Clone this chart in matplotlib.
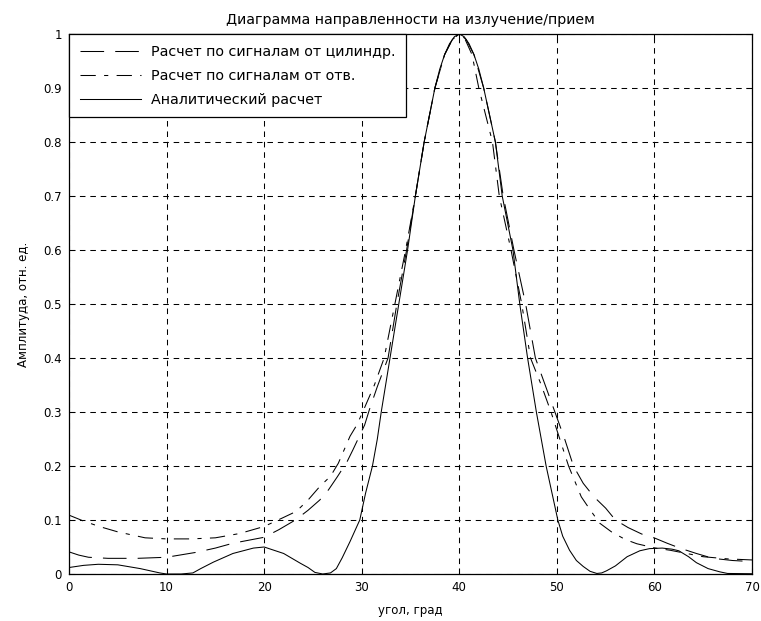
import numpy as np
import matplotlib
matplotlib.use("Agg")
import matplotlib.pyplot as plt

plt.rcParams['font.family'] = ['DejaVu Sans']
plt.rcParams['font.size'] = 8.5
plt.rcParams['lines.scale_dashes'] = False

# расчет по сигналам от цилиндра (пунктир)
cyl_x = [0, 1, 2, 4, 7, 10, 13, 15, 16.8, 20, 21.5, 23.2, 24.5, 25.7, 26.6, 27.5,
         28.5, 29.1, 29.7, 30.3, 30.8, 31.6, 32.7, 33.6, 34.6, 35.5, 36.4, 37.5,
         38.5, 39.3, 40, 40.7, 41.5, 42.5, 43.7, 44.5, 45.6, 46.8, 47.8, 48.8,
         49.8, 50.8, 51.7, 52.7, 53.8, 55.0, 56.0, 57.3, 58.7, 60.1, 61.3, 62.6,
         64.3, 66, 68, 70]
cyl_y = [0.041, 0.035, 0.031, 0.029, 0.029, 0.031, 0.040, 0.048, 0.057, 0.068,
         0.082, 0.100, 0.118, 0.137, 0.156, 0.180, 0.208, 0.230, 0.253, 0.276,
         0.305, 0.347, 0.400, 0.500, 0.600, 0.700, 0.800, 0.900, 0.962, 0.990,
         1.000, 0.990, 0.962, 0.900, 0.800, 0.700, 0.600, 0.500, 0.400, 0.350,
         0.300, 0.250, 0.200, 0.168, 0.143, 0.122, 0.100, 0.086, 0.074, 0.066,
         0.057, 0.048, 0.038, 0.029, 0.025, 0.023]

# расчет по сигналам от отверстий (штрих-пунктир)
hole_x = [0, 1.5, 3.1, 5, 7.8, 10, 12.5, 15, 17.5, 20, 21.9, 23.3, 24.5, 25.7,
          26.8, 27.6, 28.8, 29.5, 30.1, 31.3, 32.3, 33.4, 34.5, 35.5, 36.4, 37.5,
          38.5, 39.3, 40, 40.6, 41.3, 42.0, 43.4, 44.1, 45.3, 46.4, 47.3, 48.4,
          49.4, 50.3, 51.2, 52.5, 53.4, 54.4, 55.6, 57.0, 58.2, 60.1, 61.6, 63.3,
          65, 67.5, 70]
hole_y = [0.109, 0.098, 0.088, 0.078, 0.067, 0.065, 0.065, 0.067, 0.075, 0.088,
          0.104, 0.116, 0.137, 0.162, 0.181, 0.205, 0.255, 0.276, 0.300, 0.350,
          0.400, 0.500, 0.600, 0.700, 0.800, 0.900, 0.962, 0.990, 1.000, 0.990,
          0.962, 0.900, 0.800, 0.700, 0.600, 0.500, 0.400, 0.350, 0.300, 0.250,
          0.200, 0.143, 0.119, 0.094, 0.078, 0.064, 0.056, 0.048, 0.044, 0.038,
          0.032, 0.028, 0.026]

# аналитический расчет (сплошная)
an_x = [0, 1.5, 3, 5, 7.3, 8.3, 9.3, 10, 11.5, 12.7, 13.5, 14.8, 16.8, 18.9, 20,
        22, 23.7, 24.5, 25.2, 26.0, 26.8, 27.4, 28.0, 28.8, 29.8, 30.4, 31.1,
        31.6, 32.0, 32.9, 33.8, 34.7, 35.5, 36.4, 37.5, 38.0, 38.5, 39.0, 39.5,
        40, 40.5, 41.0, 41.5, 42.0, 42.5, 43.7, 44.4, 45.5, 46.2, 47.0, 47.9,
        48.9, 50.1, 50.6, 51.3, 52.0, 52.7, 53.4, 54.1, 54.6, 55.1, 56.0, 57.2,
        58.5, 59.5, 60.8, 61.8, 62.5, 63.5, 64.3, 65.5, 66.7, 67.5, 70]
an_y = [0.012, 0.016, 0.018, 0.017, 0.010, 0.006, 0.002, 0.0, 0.0, 0.002, 0.010,
        0.022, 0.038, 0.048, 0.050, 0.038, 0.020, 0.012, 0.003, 0.0, 0.002, 0.010,
        0.030, 0.060, 0.100, 0.150, 0.200, 0.250, 0.300, 0.400, 0.500, 0.600,
        0.700, 0.800, 0.900, 0.935, 0.962, 0.982, 0.995, 1.000, 0.995, 0.982,
        0.962, 0.935, 0.900, 0.800, 0.700, 0.600, 0.500, 0.400, 0.300, 0.200,
        0.100, 0.070, 0.044, 0.025, 0.014, 0.005, 0.001, 0.002, 0.006, 0.015,
        0.032, 0.043, 0.047, 0.048, 0.046, 0.043, 0.032, 0.021, 0.010, 0.004,
        0.001, 0.0005]

labels = ['Расчет по сигналам от цилиндр.',
          'Расчет по сигналам от отв.',
          'Аналитический расчет']

xticks = [0, 10, 20, 30, 40, 50, 60, 70]
yticks = [0, 0.1, 0.2, 0.3, 0.4, 0.5, 0.6, 0.7, 0.8, 0.9, 1]
ytick_labels = ['0', '0.1', '0.2', '0.3', '0.4', '0.5', '0.6', '0.7', '0.8', '0.9', '1']

fig = plt.figure(figsize=(7.61, 6.21), dpi=100)
ax = fig.add_axes([69 / 761, 47 / 621, 683 / 761, 540 / 621])

lw = 0.75
ax.plot(cyl_x, cyl_y, color='black', lw=lw, linestyle=(0, (17, 8)), label=labels[0])
ax.plot(hole_x, hole_y, color='black', lw=lw, linestyle=(0, (11, 6, 3, 6)), label=labels[1])
ax.plot(an_x, an_y, color='black', lw=lw, linestyle='-', label=labels[2])

ax.set_xlim(0, 70)
ax.set_ylim(0, 1)
ax.set_xticks(xticks)
ax.set_xticklabels([str(t) for t in xticks])
ax.set_yticks(yticks)
ax.set_yticklabels(ytick_labels)

ax.grid(True, color='black', linestyle=(0, (4, 3.5)), linewidth=0.75)
ax.tick_params(direction='in', length=4, width=0.75, top=True, right=True,
               colors='black', pad=5)
for s in ax.spines.values():
    s.set_linewidth(0.9)

ax.set_title('Диаграмма направленности на излучение/прием', pad=7)
ax.set_xlabel('угол, град', labelpad=7)
ax.set_ylabel('Амплитуда, отн. ед.', labelpad=10)

leg = ax.legend(loc='upper left', borderaxespad=0, fancybox=False,
                edgecolor='black', framealpha=1, fontsize=10.3,
                handlelength=4.3, handletextpad=0.7, borderpad=0.75,
                labelspacing=0.7)
leg.get_frame().set_linewidth(0.9)

fig.savefig('out.png', dpi=100)
